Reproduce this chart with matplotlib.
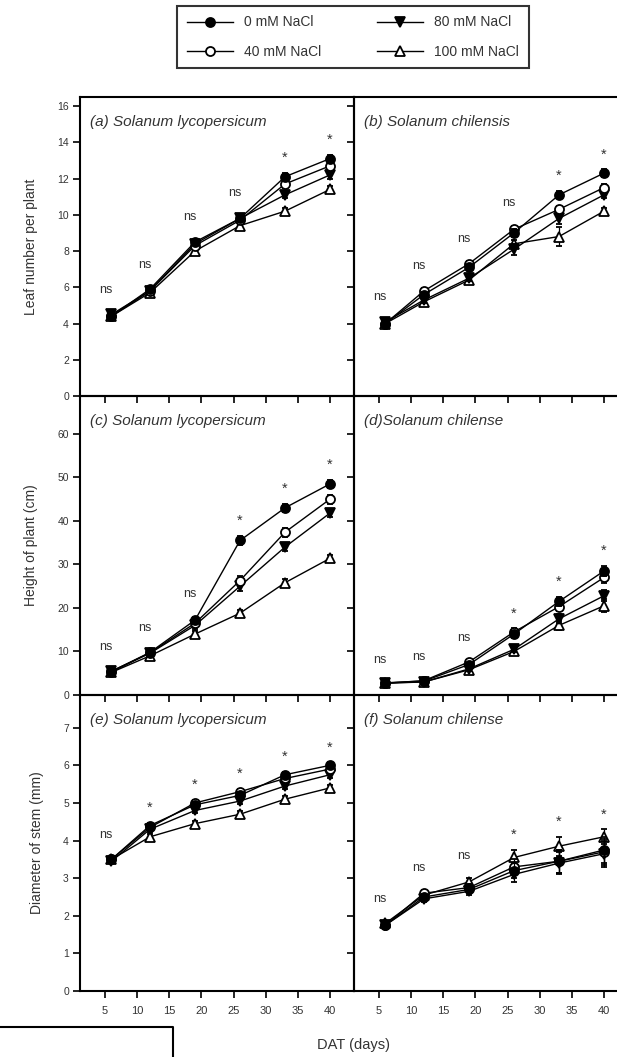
import matplotlib.pyplot as plt
from matplotlib.lines import Line2D

plt.rcParams['font.family'] = ['Liberation Sans', 'DejaVu Sans']

# sampling days after transplanting
days = [6, 12, 19, 26, 33, 40]
treatments = ['0 mM NaCl', '40 mM NaCl', '80 mM NaCl', '100 mM NaCl']

# rows: 0, 40, 80, 100 mM NaCl
leaf_lyco = [[4.4, 5.9, 8.5, 9.8, 12.1, 13.1],
             [4.4, 5.8, 8.3, 9.7, 11.7, 12.7],
             [4.5, 5.8, 8.4, 9.8, 11.1, 12.2],
             [4.4, 5.7, 8.0, 9.4, 10.2, 11.4]]
leaf_lyco_se = [[0.1, 0.1, 0.15, 0.15, 0.2, 0.2],
                [0.1, 0.1, 0.15, 0.15, 0.2, 0.2],
                [0.1, 0.1, 0.15, 0.15, 0.2, 0.2],
                [0.1, 0.1, 0.15, 0.15, 0.2, 0.2]]
leaf_chil = [[4.0, 5.6, 7.1, 9.0, 11.1, 12.3],
             [4.0, 5.8, 7.3, 9.2, 10.3, 11.5],
             [4.1, 5.3, 6.5, 8.1, 9.8, 11.1],
             [4.0, 5.2, 6.4, 8.4, 8.8, 10.2]]
leaf_chil_se = [[0.1, 0.15, 0.15, 0.2, 0.2, 0.2],
                [0.1, 0.15, 0.15, 0.2, 0.2, 0.2],
                [0.1, 0.15, 0.15, 0.3, 0.3, 0.2],
                [0.1, 0.15, 0.15, 0.2, 0.5, 0.2]]

height_lyco = [[5.4, 9.8, 17.2, 35.5, 43.0, 48.5],
               [5.3, 9.7, 16.5, 26.3, 37.4, 45.0],
               [5.5, 9.6, 16.0, 25.0, 34.0, 41.8],
               [5.2, 9.0, 14.0, 18.8, 25.8, 31.4]]
height_lyco_se = [[0.4, 0.5, 0.8, 1.0, 1.0, 1.0],
                  [0.4, 0.5, 0.8, 1.0, 1.0, 1.0],
                  [0.4, 0.5, 0.8, 1.0, 1.0, 1.0],
                  [0.4, 0.5, 0.8, 0.8, 0.8, 0.8]]
height_chil = [[2.8, 3.2, 7.0, 14.0, 21.5, 28.5],
               [2.7, 3.3, 7.6, 14.5, 20.3, 27.0],
               [2.8, 3.0, 6.0, 10.5, 17.5, 22.8],
               [2.7, 3.0, 5.8, 10.0, 16.0, 20.5]]
height_chil_se = [[0.2, 0.3, 0.4, 0.8, 1.0, 1.2],
                  [0.2, 0.3, 0.4, 0.8, 1.0, 1.2],
                  [0.2, 0.3, 0.4, 0.6, 1.0, 1.3],
                  [0.2, 0.3, 0.4, 0.6, 1.0, 1.5]]

stem_lyco = [[3.5, 4.4, 4.95, 5.2, 5.75, 6.0],
             [3.5, 4.35, 5.0, 5.3, 5.65, 5.9],
             [3.45, 4.3, 4.8, 5.05, 5.45, 5.75],
             [3.5, 4.1, 4.45, 4.7, 5.1, 5.4]]
stem_lyco_se = [[0.05, 0.08, 0.08, 0.08, 0.08, 0.08],
                [0.05, 0.08, 0.08, 0.08, 0.08, 0.08],
                [0.05, 0.08, 0.08, 0.08, 0.08, 0.08],
                [0.05, 0.08, 0.08, 0.08, 0.08, 0.08]]
stem_chil = [[1.75, 2.5, 2.7, 3.2, 3.45, 3.75],
             [1.75, 2.6, 2.75, 3.3, 3.45, 3.7],
             [1.75, 2.45, 2.65, 3.1, 3.4, 3.65],
             [1.8, 2.55, 2.9, 3.55, 3.85, 4.1]]
stem_chil_se = [[0.05, 0.08, 0.1, 0.2, 0.3, 0.35],
                [0.05, 0.08, 0.1, 0.2, 0.3, 0.35],
                [0.05, 0.08, 0.1, 0.2, 0.3, 0.35],
                [0.05, 0.08, 0.1, 0.2, 0.25, 0.2]]

sig_leaf_lyco = ['ns', 'ns', 'ns', 'ns', '*', '*']
sig_leaf_chil = ['ns', 'ns', 'ns', 'ns', '*', '*']
sig_height_lyco = ['ns', 'ns', 'ns', '*', '*', '*']
sig_height_chil = ['ns', 'ns', 'ns', '*', '*', '*']
sig_stem_lyco = ['ns', '*', '*', '*', '*', '*']
sig_stem_chil = ['ns', 'ns', 'ns', '*', '*', '*']

x_ticks = [5, 10, 15, 20, 25, 30, 35, 40]
leaf_ticks = [0, 2, 4, 6, 8, 10, 12, 14, 16]
height_ticks = [0, 10, 20, 30, 40, 50, 60]
stem_ticks = [0, 1, 2, 3, 4, 5, 6, 7]

markers = ['o', 'o', 'v', '^']
faces = ['k', 'w', 'k', 'w']

W, H = 617, 1057
fig = plt.figure(figsize=(W / 100, H / 100), dpi=100)


def place(x0, y0, x1, y1):
    return [x0 / W, 1 - y1 / H, (x1 - x0) / W, (y1 - y0) / H]


cols = [(80, 354), (354, 628)]
rows = [(97, 396), (396, 695), (695, 991)]

panels = [
    (leaf_lyco, leaf_lyco_se, sig_leaf_lyco, '(a) Solanum lycopersicum', 16.5, leaf_ticks),
    (leaf_chil, leaf_chil_se, sig_leaf_chil, '(b) Solanum chilensis', 16.5, leaf_ticks),
    (height_lyco, height_lyco_se, sig_height_lyco, '(c) Solanum lycopersicum', 68.7, height_ticks),
    (height_chil, height_chil_se, sig_height_chil, '(d)Solanum chilense', 68.7, height_ticks),
    (stem_lyco, stem_lyco_se, sig_stem_lyco, '(e) Solanum lycopersicum', 7.87, stem_ticks),
    (stem_chil, stem_chil_se, sig_stem_chil, '(f) Solanum chilense', 7.87, stem_ticks),
]
ylabels = ['Leaf number per plant', 'Height of plant (cm)', 'Diameter of stem (mm)']

for k, (vals, errs, sig, title, ytop, yt) in enumerate(panels):
    r, c = divmod(k, 2)
    ax = fig.add_axes(place(cols[c][0], rows[r][0], cols[c][1], rows[r][1]))
    # draw highest salinity first so the control sits on top
    for i in [3, 2, 1, 0]:
        ax.errorbar(days, vals[i], yerr=errs[i], color='k', lw=1.0,
                    marker=markers[i], mfc=faces[i], mec='k', ms=6.5, mew=1.3,
                    capsize=2.5, elinewidth=0.9, capthick=0.9, zorder=3 + (3 - i))
    ax.set_xlim(1.11, 43.73)
    ax.set_ylim(0, ytop)
    ax.set_xticks(x_ticks)
    ax.set_yticks(yt)
    ax.tick_params(direction='out', length=5, width=1.2, color='k',
                   top=False, right=False)
    ax.tick_params(axis='y', labelsize=7.5, pad=3, labelcolor='#333333')
    ax.tick_params(axis='x', labelsize=8, pad=6, labelcolor='#333333')
    if r < 2:
        ax.tick_params(axis='x', labelbottom=False)
    if c == 1:
        ax.tick_params(axis='y', labelleft=False)
    for s in ax.spines.values():
        s.set_linewidth(1.5)
    ax.patch.set_alpha(0)

    # significance marks above the upper error bar at each sampling day
    span = ytop
    for j, d in enumerate(days):
        top = max(vals[i][j] + errs[i][j] for i in range(4))
        if sig[j] == 'ns':
            ax.text(d - 0.8, top + 0.075 * span, 'ns', ha='center', va='center',
                    fontsize=9, color='#333333')
        else:
            ax.text(d, top + 0.05 * span, '*', ha='center', va='center',
                    fontsize=10.5, color='#333333')

    ax.text(0.035, 0.915, title, transform=ax.transAxes, ha='left', va='center',
            fontsize=11, style='italic', color='#333333')
    if c == 0:
        ax.set_ylabel(ylabels[r], fontsize=10, color='#333333', labelpad=14)

fig.text(354 / W, 1 - 1045 / H, 'DAT (days)', ha='center', va='center',
         fontsize=10.5, color='#333333')

handles = [Line2D([], [], color='k', lw=1.0, marker=markers[i], mfc=faces[i],
                  mec='k', ms=6.5, mew=1.3) for i in range(4)]
leg = fig.legend(handles, treatments, ncol=2, loc='center',
                 bbox_to_anchor=(353 / W, 1 - 37 / H), fontsize=10,
                 frameon=True, fancybox=False, edgecolor='k',
                 handlelength=3.3, handletextpad=0.8, columnspacing=4.0,
                 labelspacing=1.1, borderpad=0.7)
leg.get_frame().set_linewidth(1.5)
for t in leg.get_texts():
    t.set_color('#333333')

# frame edge of the box below the axes
fig.add_artist(Line2D([0, 173 / W, 173 / W], [1 - 1027 / H, 1 - 1027 / H, 0],
                      color='k', lw=1.5))

fig.savefig('out.png', dpi=100)
